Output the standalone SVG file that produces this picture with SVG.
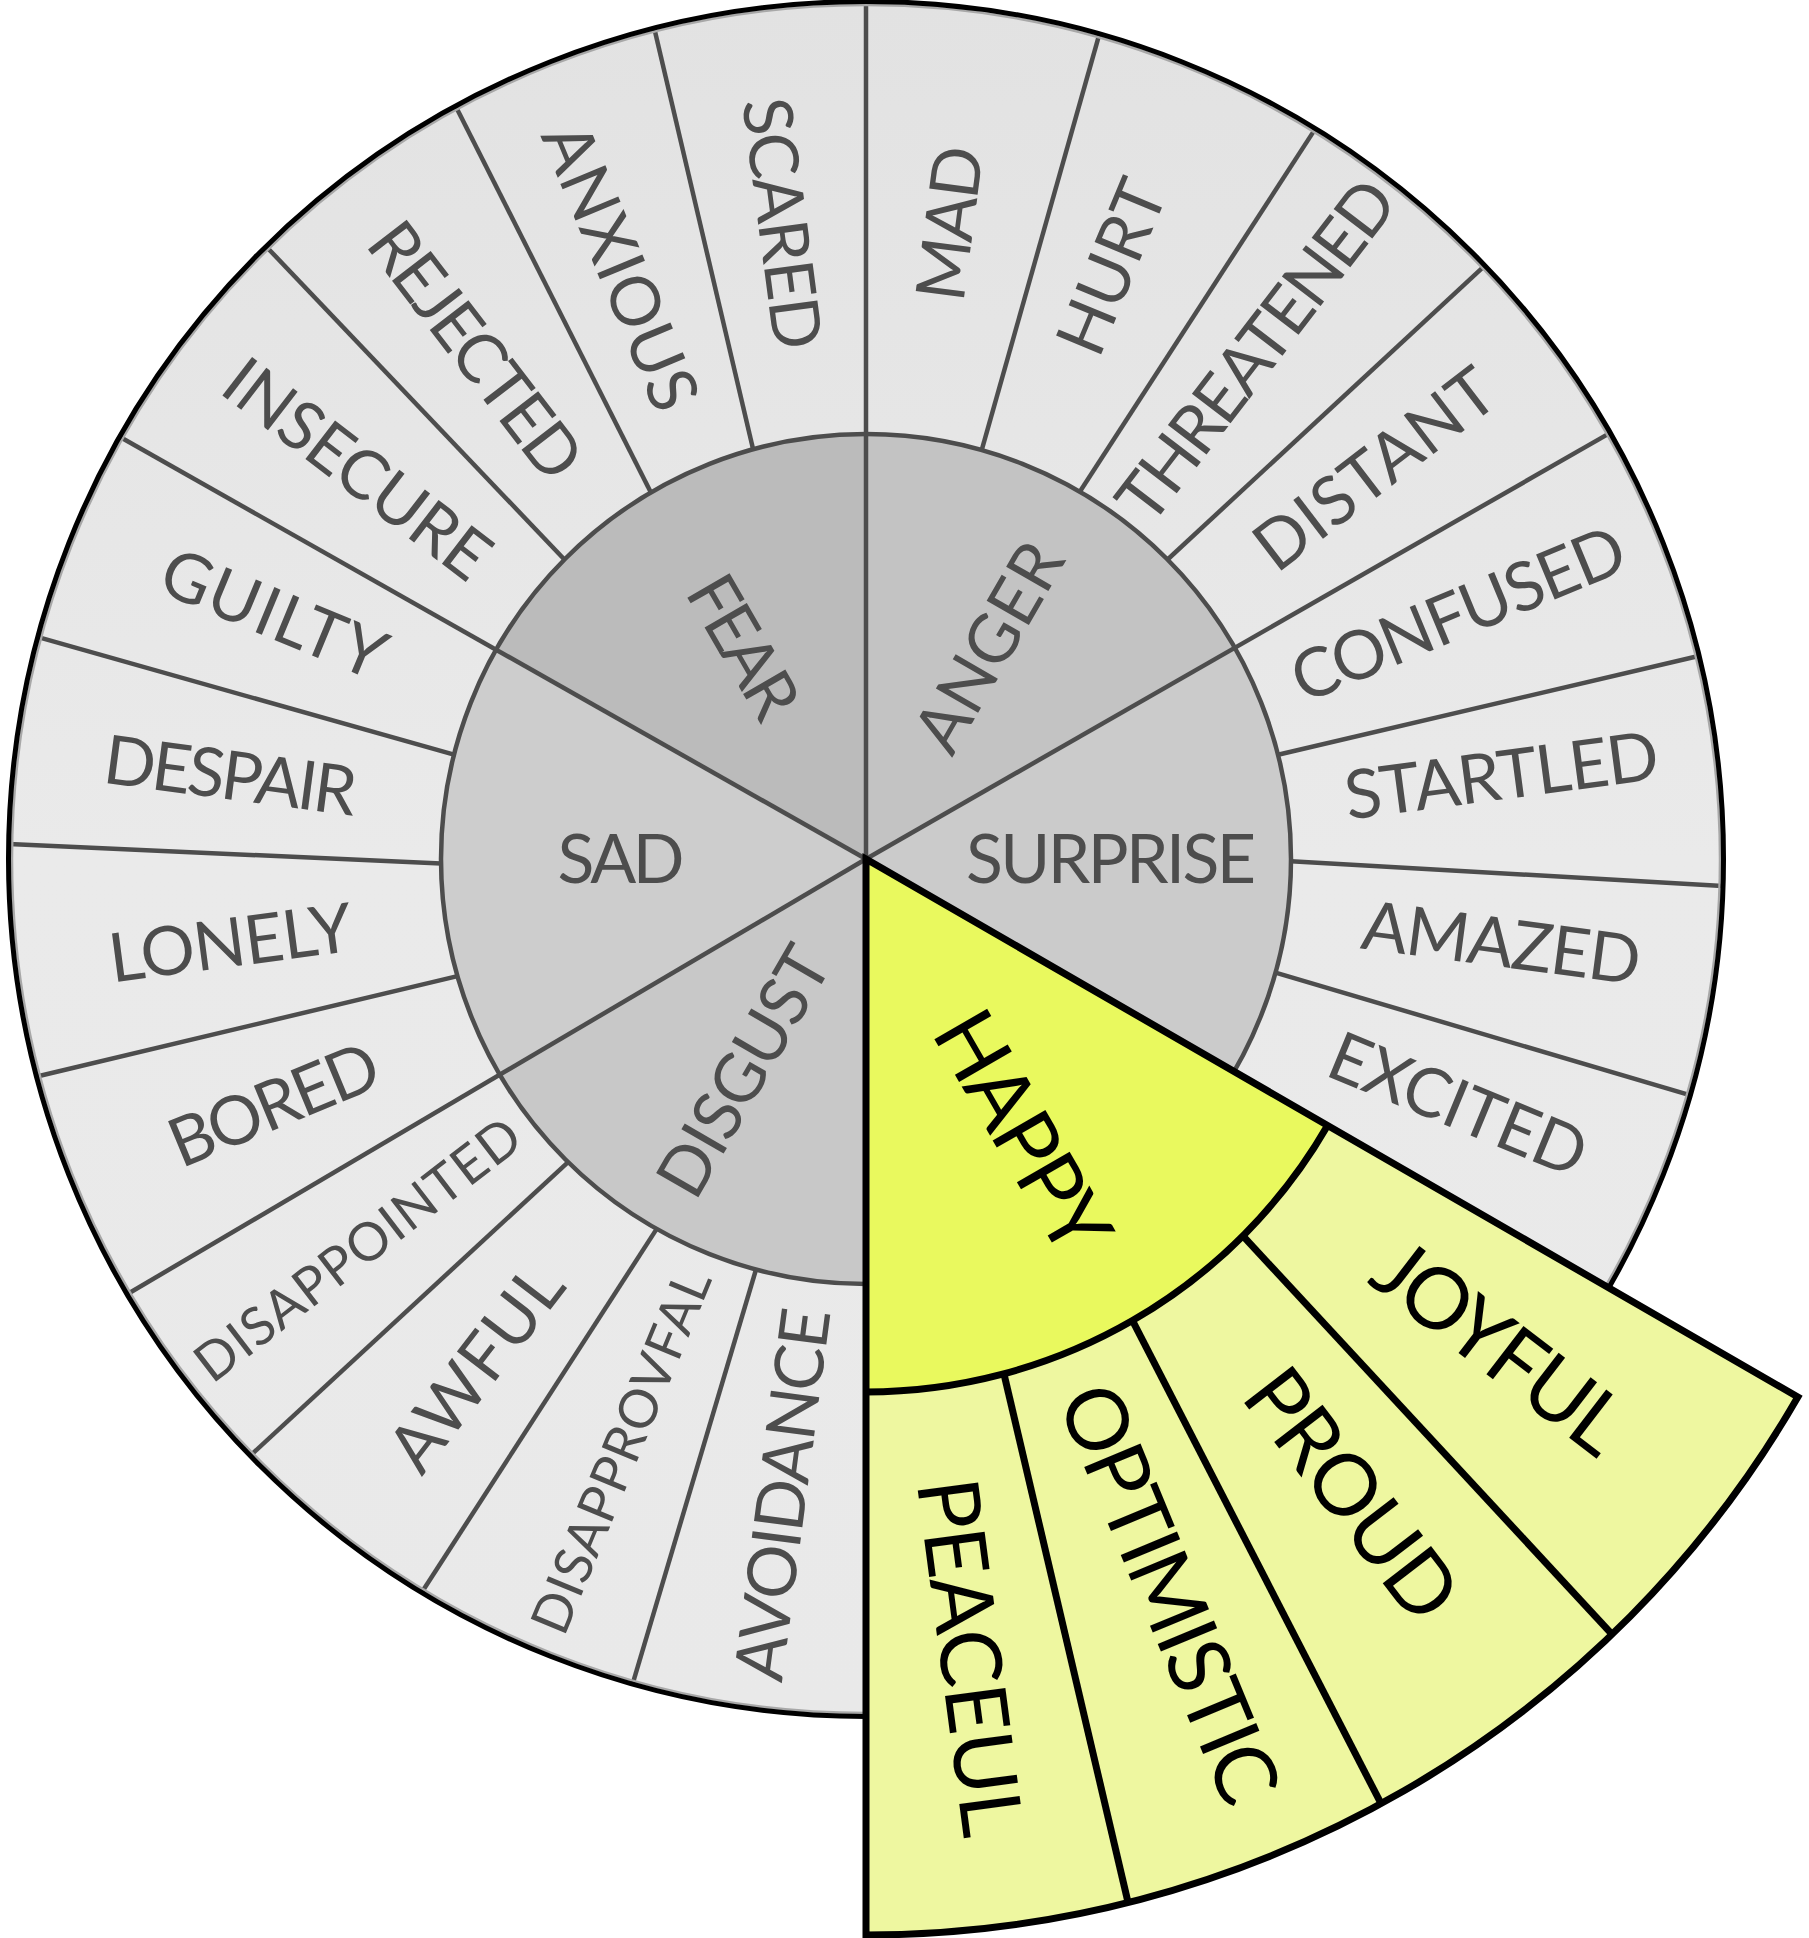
<svg xmlns="http://www.w3.org/2000/svg" width="1809" height="1938" viewBox="0 0 1809 1938">
<defs>
<linearGradient id="ringGrad" x1="0" y1="0" x2="0" y2="1">
<stop offset="0" stop-color="#e2e2e2"/>
<stop offset="0.5" stop-color="#eaeaea"/>
<stop offset="1" stop-color="#e9e9e9"/>
</linearGradient>
</defs>
<style>
.sep{stroke:#4d4d4d;stroke-width:4.5;fill:none}
.hsep{stroke:#000;stroke-width:7;fill:none}
.lbl{font-family:Lato,"Open Sans","Liberation Sans",sans-serif;font-size:68px;fill:#4d4d4d;text-anchor:middle}
.sm{font-size:53px}
.hl{font-family:Lato,"Open Sans","Liberation Sans",sans-serif;font-size:85px;fill:#000;text-anchor:middle}
</style>
<rect width="1809" height="1938" fill="#fff"/>
<g transform="translate(866 859)">
<g id="outer-ring">
<circle r="857" fill="url(#ringGrad)"/>
</g>
<g id="inner-sectors">
<path id="surprise" d="M0 0L368.8 -211.2A425 425 0 0 1 368.06 212.5Z" fill="#cbcbcb"/>
<path id="anger" d="M0 0L0 -425A425 425 0 0 1 368.8 -211.2Z" fill="#c3c3c3"/>
<path id="fear" d="M0 0L-369.9 -209.3A425 425 0 0 1 0 -425Z" fill="#bbbbbb"/>
<path id="sad" d="M0 0L-366.2 215.7A425 425 0 0 1 -369.9 -209.3Z" fill="#cdcdcd"/>
<path id="disgust" d="M0 0L0 425A425 425 0 0 1 -366.2 215.7Z" fill="#c8c8c8"/>
</g>
<g id="connectors">
<line class="sep" x1="0" y1="0" x2="-738.4" y2="435"/>
<line class="sep" x1="0" y1="0" x2="-745.9" y2="-422"/>
<line class="sep" x1="0" y1="0" x2="0" y2="-857"/>
<line class="sep" x1="0" y1="0" x2="743.7" y2="-425.9"/>
<line class="sep" x1="-110" y1="410.5" x2="-233.3" y2="824.6"/>
<line class="sep" x1="-209.3" y1="369.9" x2="-444" y2="733"/>
<line class="sep" x1="-297.9" y1="303.1" x2="-615.4" y2="596.4"/>
<line class="sep" x1="-408.5" y1="117.1" x2="-829" y2="217.5"/>
<line class="sep" x1="-425" y1="4.5" x2="-856.9" y2="-15"/>
<line class="sep" x1="-412" y1="-104.3" x2="-827.8" y2="-221.8"/>
<line class="sep" x1="-301.6" y1="-299.5" x2="-599.6" y2="-612.3"/>
<line class="sep" x1="-215.1" y1="-366.6" x2="-410.2" y2="-752.4"/>
<line class="sep" x1="-112.9" y1="-409.7" x2="-211.7" y2="-830.5"/>
<line class="sep" x1="115.7" y1="-408.9" x2="233.3" y2="-824.6"/>
<line class="sep" x1="213.8" y1="-367.3" x2="449.1" y2="-729.9"/>
<line class="sep" x1="301.6" y1="-299.5" x2="618.5" y2="-593.2"/>
<line class="sep" x1="412" y1="-104.3" x2="832.6" y2="-203"/>
<line class="sep" x1="425" y1="2.2" x2="856.6" y2="26.9"/>
<line class="sep" x1="409.5" y1="113.6" x2="823.8" y2="236.2"/>
<circle class="sep" r="425"/>
<circle r="854" fill="none" stroke="#a8a8a8" stroke-width="2.5"/>
<circle r="857.5" fill="none" stroke="#000" stroke-width="5"/>
</g>
<g id="inner-labels">
<g id="n-fear"><text class="lbl" transform="rotate(60)" x="-245" y="24" textLength="154">FEAR</text></g>
<g id="n-anger"><text class="lbl" transform="rotate(-60)" x="245" y="24" textLength="229">ANGER</text></g>
<g id="n-surprise"><text class="lbl" x="245" y="24" textLength="290">SURPRISE</text></g>
<g id="n-sad"><text class="lbl" x="-245" y="24" textLength="127">SAD</text></g>
<g id="n-disgust"><text class="lbl" transform="rotate(-60)" x="-245" y="24" textLength="276">DISGUST</text></g>
</g>
<g id="outer-labels">
<g id="n-mad"><text class="lbl" transform="rotate(-82.5)" x="641" y="24" textLength="155">MAD</text></g>
<g id="n-hurt"><text class="lbl" transform="rotate(-67.5)" x="641" y="24" textLength="182">HURT</text></g>
<g id="n-threatened"><text class="lbl" transform="rotate(-52.5)" x="641" y="24" textLength="410">THREATENED</text></g>
<g id="n-distant"><text class="lbl" transform="rotate(-37.5)" x="641" y="24" textLength="284">DISTANT</text></g>
<g id="n-confused"><text class="lbl" transform="rotate(-22.5)" x="641" y="24" textLength="355">CONFUSED</text></g>
<g id="n-startled"><text class="lbl" transform="rotate(-7.5)" x="641" y="24" textLength="316">STARTLED</text></g>
<g id="n-amazed"><text class="lbl" transform="rotate(7.5)" x="641" y="24" textLength="280">AMAZED</text></g>
<g id="n-excited"><text class="lbl" transform="rotate(22.5)" x="641" y="24" textLength="272">EXCITED</text></g>
<g id="n-avoidance"><text class="lbl" transform="rotate(-82.5)" x="-641" y="24" textLength="375">AVOIDANCE</text></g>
<g id="n-disapprovfal"><text class="lbl sm" transform="rotate(-67.5)" x="-641" y="19" textLength="388">DISAPPROVFAL</text></g>
<g id="n-awful"><text class="lbl" transform="rotate(-52.5)" x="-641" y="24" textLength="240">AWFUL</text></g>
<g id="n-disappointed"><text class="lbl sm" transform="rotate(-37.5)" x="-641" y="19" textLength="395">DISAPPOINTED</text></g>
<g id="n-bored"><text class="lbl" transform="rotate(-22.5)" x="-641" y="24" textLength="221">BORED</text></g>
<g id="n-lonely"><text class="lbl" transform="rotate(-7.5)" x="-641" y="24" textLength="245">LONELY</text></g>
<g id="n-despair"><text class="lbl" transform="rotate(7.5)" x="-641" y="24" textLength="254">DESPAIR</text></g>
<g id="n-guilty"><text class="lbl" transform="rotate(22.5)" x="-641" y="24" textLength="237">GUILTY</text></g>
<g id="n-insecure"><text class="lbl" transform="rotate(37.5)" x="-641" y="24" textLength="316">INSECURE</text></g>
<g id="n-rejected"><text class="lbl" transform="rotate(52.5)" x="-641" y="24" textLength="304">REJECTED</text></g>
<g id="n-anxious"><text class="lbl" transform="rotate(67.5)" x="-641" y="24" textLength="304">ANXIOUS</text></g>
<g id="n-scared"><text class="lbl" transform="rotate(82.5)" x="-641" y="24" textLength="253">SCARED</text></g>
</g>
<g id="happy">
<path d="M461.6 266.5L931.85 538A1076 1076 0 0 1 0 1076L0 533A533 533 0 0 0 461.6 266.5Z" fill="#eef7a0"/>
<path d="M0 0L461.6 266.5A533 533 0 0 1 0 533Z" fill="#e9f95e"/>
<line class="hsep" x1="376.9" y1="376.9" x2="746.1" y2="775.3"/>
<line class="hsep" x1="266.5" y1="461.6" x2="515.1" y2="944.7"/>
<line class="hsep" x1="137.95" y1="514.84" x2="262.1" y2="1043.6"/>
<path class="hsep" d="M461.6 266.5A533 533 0 0 1 0 533"/>
<path class="hsep" d="M0 0L931.85 538A1076 1076 0 0 1 0 1076Z" stroke-linejoin="miter"/>
<g id="n-happy"><text class="hl" transform="rotate(60)" x="315" y="31" textLength="265">HAPPY</text></g>
<g id="n-joyful"><text class="hl" transform="rotate(37.5)" x="800" y="31" textLength="292">JOYFUL</text></g>
<g id="n-proud"><text class="hl" transform="rotate(52.5)" x="800" y="31" textLength="292">PROUD</text></g>
<g id="n-optimistic"><text class="hl" transform="rotate(67.5)" x="795" y="31" textLength="445">OPTIMISTIC</text></g>
<g id="n-peaceul"><text class="hl" transform="rotate(82.5)" x="805" y="31" textLength="360">PEACEUL</text></g>
</g>
</g>
</svg>
